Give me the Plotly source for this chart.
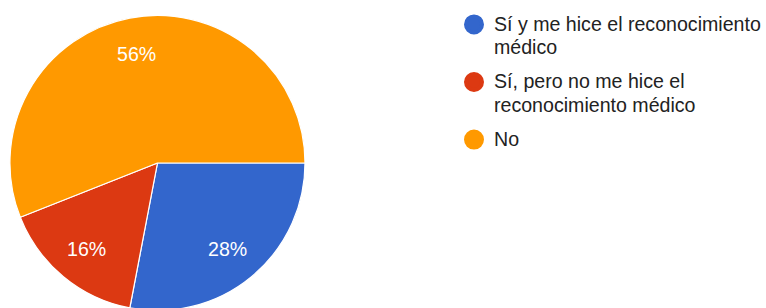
import math
import plotly.graph_objects as go

# Data
categories = ["Sí y me hice el reconocimiento médico",
              "Sí, pero no me hice el reconocimiento médico",
              "No"]
counts = [7, 4, 14]
colors = ["#3366cc", "#dc3912", "#ff9900"]
# legend text lines (wrapped as in the reference)
legend_lines = [["Sí y me hice el reconocimiento", "médico"],
                ["Sí, pero no me hice el", "reconocimiento médico"],
                ["No"]]

W, H = 766, 326
FONT = "Arial, 'Liberation Sans', sans-serif"
TXT = 19.6
PIE_X0, PIE_X1 = 10 / W, 307 / W
START = 90  # degrees clockwise from 12 o'clock

fig = go.Figure()
fig.add_trace(go.Pie(
    labels=categories, values=counts, sort=False, direction="clockwise",
    rotation=START, marker=dict(colors=colors, line=dict(color="white", width=1.2)),
    textinfo="none",
    domain=dict(x=[PIE_X0, PIE_X1], y=[0, 1]),
    showlegend=False, hoverinfo="label+percent",
))

# percentage labels placed along each slice's bisector at 3/4 of the radius
total = sum(counts)
cx = (PIE_X0 + PIE_X1) / 2 * W
cy = H / 2
R = min((PIE_X1 - PIE_X0) * W, H) / 2
rho = 0.75 * R
cum = 0
for c in counts:
    mid = math.radians(START + 360 * (cum + c / 2) / total)
    cum += c
    px = cx + rho * math.sin(mid)
    py = cy + rho * math.cos(mid)  # upward from bottom
    fig.add_annotation(x=px / W, y=py / H, xref="paper", yref="paper",
                       text=f"{round(100 * c / total)}%", showarrow=False,
                       xanchor="center", yanchor="middle",
                       font=dict(family=FONT, size=TXT, color="white"))

for i, lines in enumerate(legend_lines):
    for j, line in enumerate(lines):
        col = colors[i] if j == 0 else "rgba(0,0,0,0)"
        fig.add_trace(go.Scatter(
            x=[None], y=[None], mode="markers",
            name=f'<span style="font-size:{TXT}px">{line}</span>',
            legendgroup=f"g{i}",
            marker=dict(size=16, color=col, line=dict(color=col, width=4)),
            hoverinfo="skip",
        ))

fig.update_layout(
    width=W, height=H, margin=dict(l=0, r=0, t=0, b=0),
    paper_bgcolor="white", plot_bgcolor="white",
    xaxis=dict(visible=False), yaxis=dict(visible=False),
    showlegend=True,
    legend=dict(x=457 / W, y=1 - 7.5 / H, xanchor="left", yanchor="top",
                font=dict(family=FONT, size=16, color="#222222"),
                tracegroupgap=10, itemsizing="trace", bgcolor="rgba(0,0,0,0)"),
    font=dict(family=FONT),
)

fig.write_html("out.html", config={"displayModeBar": False},
               post_script="document.body.style.margin='0';document.body.style.overflow='hidden';")
